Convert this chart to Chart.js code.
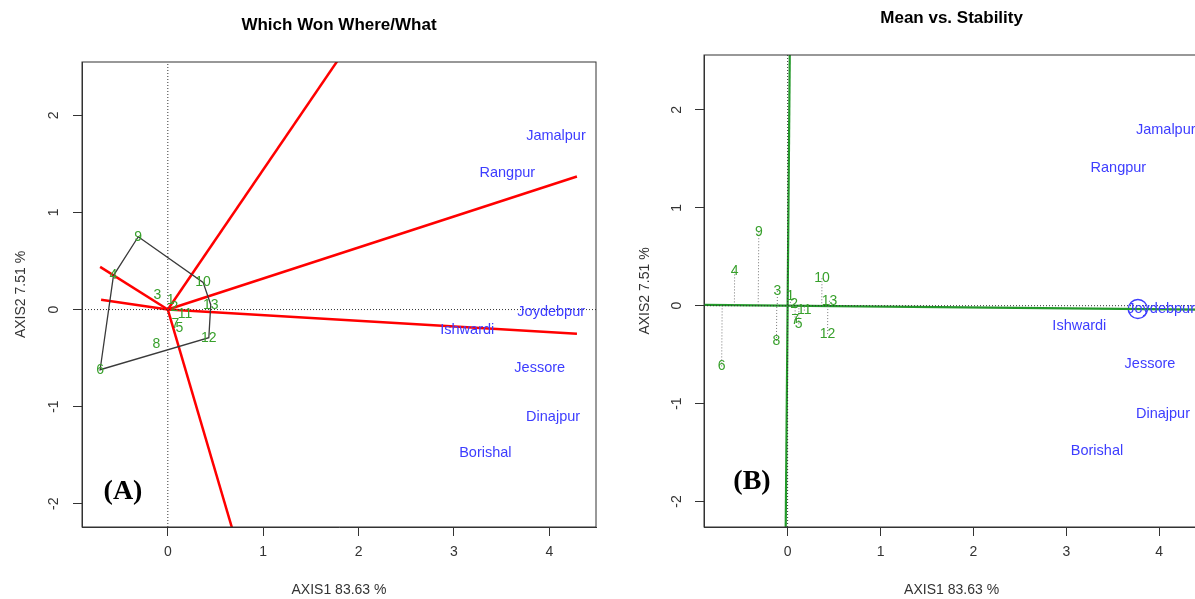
<!DOCTYPE html>
<html>
<head>
<meta charset="utf-8">
<script src="https://cdn.jsdelivr.net/npm/chart.js@4"></script>
<style>
  html, body { margin: 0; padding: 0; background: #fff; overflow: hidden; }
  body { width: 1195px; height: 599px; position: relative; }
  #contA { position: absolute; left: 0; top: 0; width: 600px; height: 599px; }
  #contB { position: absolute; left: 600px; top: 0; width: 610px; height: 599px; }
</style>
</head>
<body>
<div id="contA"><canvas id="graficoA"></canvas></div>
<div id="contB"><canvas id="graficoB"></canvas></div>
<script>
const genotipos = ['1', '2', '3', '4', '5', '6', '7', '8', '9', '10', '11', '12', '13'];
const genX = [0.03, 0.07, -0.11, -0.57, 0.12, -0.71, 0.08, -0.12, -0.31, 0.37, 0.18, 0.43, 0.45];
const genY = [0.10, 0.02, 0.15, 0.35, -0.19, -0.62, -0.15, -0.36, 0.75, 0.28, -0.05, -0.29, 0.05];

//Ambientes (etiquetas azules).
const ambientes = ['Jamalpur', 'Rangpur', 'Joydebpur', 'Ishwardi', 'Jessore', 'Dinajpur', 'Borishal'];
const ambX = [4.07, 3.56, 4.02, 3.14, 3.90, 4.04, 3.33];
const ambY = [1.79, 1.41, -0.03, -0.21, -0.60, -1.11, -1.48];

//Contorno del polígono (orden de genotipos) y extremos de las líneas rojas.
const poligono = ['9', '10', '13', '12', '6', '4', '9'];
const rayoX = [1.84, 4.29, 4.29, 0.70, -0.70, -0.71];
const rayoY = [2.65, 1.37, -0.25, -2.34, 0.10, 0.44];

//Ambiente promedio (círculo del gráfico B).
const promedioX = [3.77];
const promedioY = [-0.034];

//Marcas de los ejes.
const ticksX = [0, 1, 2, 3, 4];
const ticksY = [-2, -1, 0, 1, 2];

const fuente = '"Liberation Sans", Arial, sans-serif';
Chart.defaults.font.family = fuente;

//Plugin para textos: etiquetas, título, marco, ticks rotados del eje Y.
const textos = {
  id: 'textos',
  afterDatasetsDraw(chart, args, opts) {
    const ctx = chart.ctx;
    const area = chart.chartArea;
    const x = chart.scales.x;
    const y = chart.scales.y;

    ctx.save();
    ctx.beginPath();
    ctx.rect(area.left, area.top, area.right - area.left, area.bottom - area.top);
    ctx.clip();
    ctx.textAlign = 'center';
    ctx.textBaseline = 'middle';
    ctx.font = '14px ' + fuente;
    ctx.fillStyle = '#38a02c';
    genotipos.forEach(function(g, i){
      ctx.fillText(g, x.getPixelForValue(genX[i]), y.getPixelForValue(genY[i]));
    });
    ctx.font = '14.5px ' + fuente;
    ctx.fillStyle = '#3d3dff';
    ambientes.forEach(function(a, i){
      ctx.fillText(a, x.getPixelForValue(ambX[i]), y.getPixelForValue(ambY[i]));
    });
    //Letra del panel
    ctx.fillStyle = '#000';
    ctx.font = 'bold 28px "Liberation Serif", "Times New Roman", serif';
    ctx.fillText(opts.letra, area.left + opts.letraDx, area.bottom - opts.letraDy);
    ctx.restore();

    //Marco
    ctx.save();
    ctx.strokeStyle = '#333';
    ctx.lineWidth = 1;
    ctx.strokeRect(area.left, area.top, area.right - area.left, area.bottom - area.top);

    //Título
    ctx.fillStyle = '#000';
    ctx.font = 'bold 17px ' + fuente;
    ctx.textAlign = 'center';
    ctx.textBaseline = 'middle';
    ctx.fillText(opts.titulo, (area.left + area.right) / 2, opts.tituloY);

    //Ticks del eje Y (verticales como en R)
    ctx.fillStyle = '#333';
    ctx.font = '14px ' + fuente;
    ticksY.forEach(function(v){
      ctx.save();
      ctx.translate(opts.ticksYx, y.getPixelForValue(v));
      ctx.rotate(-Math.PI / 2);
      ctx.fillText(String(v), 0, 0);
      ctx.restore();
    });
    ctx.restore();
  }
};

function escalas(lim, anchoY, tituloYpad) {
  return {
    x: {
      type: 'linear', min: lim.xMin, max: lim.xMax,
      afterBuildTicks: function(s){ s.ticks = ticksX.map(function(v){ return {value: v}; }); },
      afterFit: function(s){ s.height = 72; },
      grid: { drawOnChartArea: false, drawTicks: true, tickLength: 9, color: '#333' },
      border: { display: true, color: '#333' },
      ticks: { color: '#333', font: { size: 14 }, padding: 8 },
      title: { display: true, text: 'AXIS1 83.63 %', color: '#333', font: { size: 14 }, padding: { top: 0, bottom: 0.6 } }
    },
    y: {
      type: 'linear', min: lim.yMin, max: lim.yMax,
      afterBuildTicks: function(s){ s.ticks = ticksY.map(function(v){ return {value: v}; }); },
      afterFit: function(s){ s.width = anchoY; },
      grid: { drawOnChartArea: false, drawTicks: true, tickLength: 9, color: '#333' },
      border: { display: true, color: '#333' },
      ticks: { display: false },
      title: { display: true, text: 'AXIS2 7.51 %', color: '#333', font: { size: 14 }, padding: { top: tituloYpad, bottom: 0 } }
    }
  };
}

function linea(puntos, color, ancho, guion) {
  return {
    data: puntos, showLine: true, borderColor: color, borderWidth: ancho,
    borderDash: guion || [], pointRadius: 0, fill: false, clip: 0
  };
}

//Gráfico A: Which Won Where/What
const limA = { xMin: -0.90, xMax: 4.49, yMin: -2.24, yMax: 2.55 };
const datosA = [];
datosA.push(linea([{x: limA.xMin, y: 0}, {x: limA.xMax, y: 0}], '#333', 1, [1, 2]));
datosA.push(linea([{x: 0, y: limA.yMin}, {x: 0, y: limA.yMax}], '#333', 1, [1, 2]));
datosA.push(linea(poligono.map(function(g){
  const i = genotipos.indexOf(g);
  return {x: genX[i], y: genY[i]};
}), '#3a3a3a', 1.3));
rayoX.forEach(function(rx, i){
  datosA.push(linea([{x: 0, y: 0}, {x: rx, y: rayoY[i]}], '#ff0000', 2.5));
});

new Chart(document.getElementById('graficoA'), {
  type: 'scatter',
  data: { datasets: datosA },
  options: {
    responsive: true, maintainAspectRatio: false, animation: false, events: [],
    layout: { padding: { top: 62, right: 4, left: 0, bottom: 0 } },
    plugins: {
      legend: { display: false }, tooltip: { enabled: false },
      textos: { titulo: 'Which Won Where/What', tituloY: 25, ticksYx: 54, letra: '(A)', letraDx: 41, letraDy: 35 }
    },
    scales: escalas(limA, 82, 13.2)
  },
  plugins: [textos]
});

//Gráfico B: Mean vs. Stability
const limB = { xMin: -0.90, xMax: 4.43, yMin: -2.26, yMax: 2.56 };
const pendiente = promedioY[0] / promedioX[0];
const datosB = [];
datosB.push(linea([{x: limB.xMin, y: 0}, {x: limB.xMax, y: 0}], '#333', 1, [1, 2]));
datosB.push(linea([{x: 0, y: limB.yMin}, {x: 0, y: limB.yMax}], '#333', 1, [1, 2]));
//Proyecciones de cada genotipo sobre el eje ATC
genotipos.forEach(function(g, i){
  const t = (genX[i] + genY[i] * pendiente) / (1 + pendiente * pendiente);
  datosB.push(linea([{x: genX[i], y: genY[i]}, {x: t, y: t * pendiente}], '#777', 1, [1, 2]));
});
datosB.push(linea([{x: limB.xMin, y: limB.xMin * pendiente}, {x: limB.xMax, y: limB.xMax * pendiente}], '#23992a', 2.2));
datosB.push(linea([{x: -limB.yMin * pendiente, y: limB.yMin}, {x: -limB.yMax * pendiente, y: limB.yMax}], '#23992a', 2.2));
datosB.push({
  data: [{x: promedioX[0], y: promedioY[0]}], pointRadius: 9.5, pointStyle: 'circle',
  pointBorderColor: '#3d3dff', pointBackgroundColor: 'rgba(0,0,0,0)', pointBorderWidth: 1.3, clip: 0
});

new Chart(document.getElementById('graficoB'), {
  type: 'scatter',
  data: { datasets: datosB },
  options: {
    responsive: true, maintainAspectRatio: false, animation: false, events: [],
    layout: { padding: { top: 55, right: 7, left: 0, bottom: 0 } },
    plugins: {
      legend: { display: false }, tooltip: { enabled: false },
      textos: { titulo: 'Mean vs. Stability', tituloY: 18, ticksYx: 77, letra: '(B)', letraDx: 48, letraDy: 45 }
    },
    scales: escalas(limB, 104, 37.2)
  },
  plugins: [textos]
});
</script>
</body>
</html>
